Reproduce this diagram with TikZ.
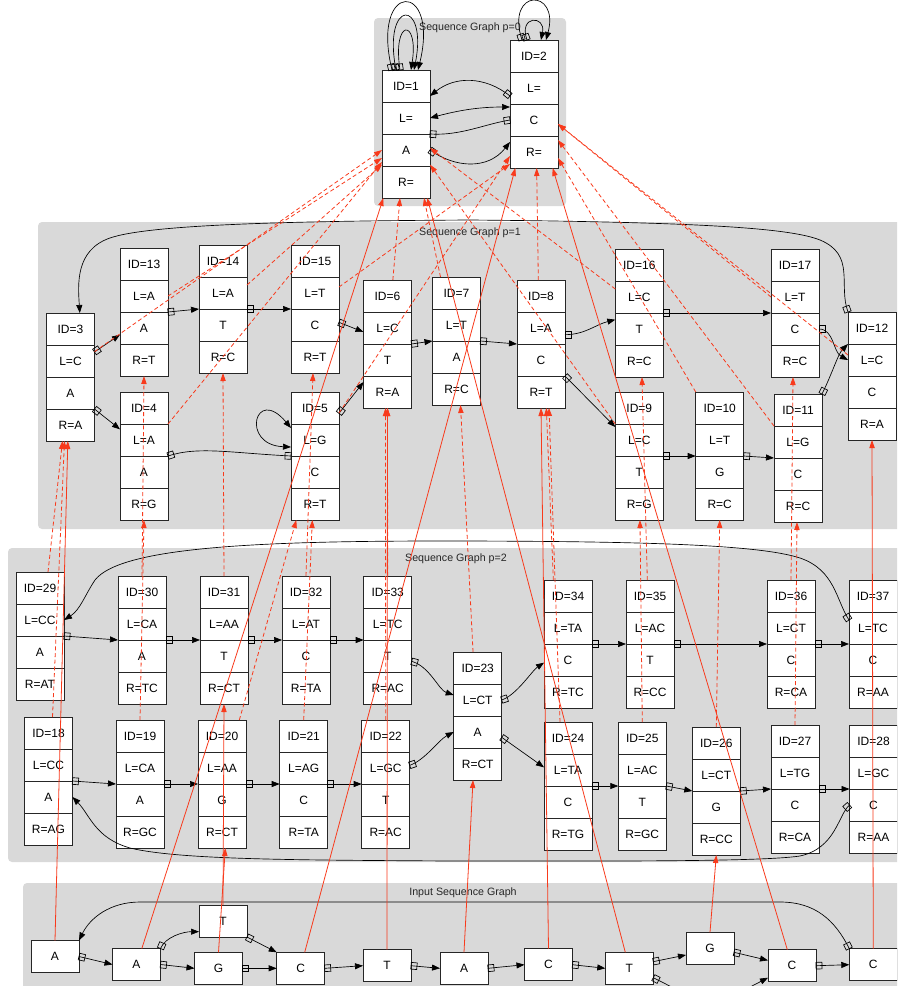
\documentclass[tikz,border=0pt]{standalone}
\usepackage{fontspec}
\setmainfont{Liberation Sans}
\usetikzlibrary{arrows.meta}
\definecolor{clgrey}{RGB}{217,217,217}
\definecolor{linkred}{RGB}{248,58,28}

\pgfdeclarearrow{
  name = obox,
  setup code = {
    \pgfarrowssettipend{0pt}
    \pgfarrowssetlineend{0pt}
    \pgfarrowssetvisualtipend{0pt}
    \pgfarrowssetbackend{-4.5pt}
    \pgfarrowssetvisualbackend{-4.5pt}
    \pgfarrowsupperhullpoint{0pt}{2.5pt}
    \pgfarrowsupperhullpoint{-4.5pt}{2.5pt}
  },
  drawing code = {
    \pgfsetdash{}{0pt}
    \pgfpathrectangle{\pgfpoint{-4.5pt}{-2.5pt}}{\pgfpoint{4.5pt}{5pt}}
    \pgfusepathqstroke
  }
}

\tikzset{
  cell/.style={draw=black!85, fill=white, line width=0.5pt, minimum width=36pt, minimum height=24pt,
    inner sep=0pt, outer sep=0pt, font=\fontsize{9}{11}\selectfont},
  cluster/.style={fill=clgrey, rounded corners=3pt},
  clusterlabel/.style={font=\fontsize{8}{10}\selectfont, text=black!85, inner sep=0pt},
  seqedge/.style={line width=0.5pt, {obox}-{Triangle[length=6pt,width=4.5pt]}},
  boxedge/.style={line width=0.5pt, {obox}-{obox}},
  dualedge/.style={line width=0.5pt, {Triangle[length=6pt,width=4.5pt]}-{Triangle[length=6pt,width=4.5pt]}},
  linkedge/.style={draw=linkred, line width=0.6pt, -{Triangle[length=6pt,width=4pt]}},
  parentedge/.style={linkedge, dash pattern=on 3pt off 2pt},
}

% record node: name, centre x, top y, id, left, centre, right
\newcommand{\recnode}[7]{%
  \node[cell] (#1i) at (#2,#3+16) {ID=#4};
  \node[cell] (#1l) at (#2,#3+48) {L=#5};
  \node[cell] (#1c) at (#2,#3+80) {#6};
  \node[cell] (#1r) at (#2,#3+112) {R=#7};
}

\begin{document}
\begin{tikzpicture}[x=0.75pt,y=-0.75pt]
\useasboundingbox (0,0) rectangle (897,986);
\clip (0,0) rectangle (897,986);

\fill[cluster] (374,18) rectangle (566,206);
\fill[cluster] (38,222) rectangle (910,529);
\fill[cluster] (8,548) rectangle (910,862);
\fill[cluster] (23,883) rectangle (910,1000);
\node[clusterlabel] (lab0) at (470,28) {Sequence Graph p=0};
\node[clusterlabel] (lab1) at (470,233) {Sequence Graph p=1};
\node[clusterlabel] (lab2) at (456,559) {Sequence Graph p=2};
\node[clusterlabel] (lab3) at (463,893) {Input Sequence Graph};

% p=0
\recnode{r1}{406}{70}{1}{}{A}{}
\recnode{r2}{534}{40}{2}{}{C}{}

% p=1
\recnode{r3}{70.5}{313}{3}{C}{A}{A}
\recnode{r13}{144}{248}{13}{A}{A}{T}
\recnode{r14}{223}{245}{14}{A}{T}{C}
\recnode{r15}{315}{245}{15}{T}{C}{T}
\recnode{r4}{144}{392}{4}{A}{A}{G}
\recnode{r5}{315}{392}{5}{G}{C}{T}
\recnode{r6}{387.5}{280}{6}{C}{T}{A}
\recnode{r7}{456.5}{277}{7}{T}{A}{C}
\recnode{r8}{541}{280}{8}{A}{C}{T}
\recnode{r16}{639.3}{249}{16}{C}{T}{C}
\recnode{r9}{639.3}{392}{9}{C}{T}{G}
\recnode{r10}{719.7}{392}{10}{T}{G}{C}
\recnode{r17}{795}{249}{17}{T}{C}{C}
\recnode{r11}{798}{394}{11}{G}{C}{C}
\recnode{r12}{872}{312}{12}{C}{C}{A}

% p=2
\recnode{r29}{40}{572}{29}{CC}{A}{AT}
\recnode{r30}{142}{576}{30}{CA}{A}{TC}
\recnode{r31}{224}{576}{31}{AA}{T}{CT}
\recnode{r32}{306}{576}{32}{AT}{C}{TA}
\recnode{r33}{387.7}{576}{33}{TC}{T}{AC}
\recnode{r18}{48.5}{717}{18}{CC}{A}{AG}
\recnode{r19}{140}{720}{19}{CA}{A}{GC}
\recnode{r20}{222}{720}{20}{AA}{G}{CT}
\recnode{r21}{303.7}{720}{21}{AG}{C}{TA}
\recnode{r22}{385.7}{720}{22}{GC}{T}{AC}
\recnode{r23}{477.7}{652}{23}{CT}{A}{CT}
\recnode{r34}{568}{580}{34}{TA}{C}{TC}
\recnode{r35}{650}{580}{35}{AC}{T}{CC}
\recnode{r36}{791}{580}{36}{CT}{C}{CA}
\recnode{r37}{873}{580}{37}{TC}{C}{AA}
\recnode{r24}{568}{722}{24}{TA}{C}{TG}
\recnode{r25}{642.3}{722}{25}{AC}{T}{GC}
\recnode{r26}{716.3}{727}{26}{CT}{G}{CC}
\recnode{r27}{795}{725}{27}{TG}{C}{CA}
\recnode{r28}{873.5}{725}{28}{GC}{C}{AA}

% input sequence graph
\node[cell] (in1) at (55,956.5) {A};
\node[cell] (in2) at (136.5,964.5) {A};
\node[cell] (in3) at (223,921) {T};
\node[cell] (in4) at (218.5,968.3) {G};
\node[cell] (in5) at (300.7,968.3) {C};
\node[cell] (in6) at (387,965.7) {T};
\node[cell] (in7) at (464,968.3) {A};
\node[cell] (in8) at (548.5,964.7) {C};
\node[cell] (in9) at (629.3,968.3) {T};
\node[cell] (in10) at (710,948.3) {G};
\node[cell] (in11) at (792,965.7) {C};
\node[cell] (in12) at (873.3,964.7) {C};
\coordinate (offa) at (705,1004);
\coordinate (offb) at (725,1000);

% edges p=0
\draw[seqedge] ([xshift=-10.5pt]r1i.north) .. controls +(-22,-90) and +(22,-90) .. ([xshift=9pt]r1i.north);
\draw[seqedge] ([xshift=-7.5pt]r1i.north) .. controls +(-14,-72) and +(14,-72) .. ([xshift=6pt]r1i.north);
\draw[seqedge] ([xshift=-4.5pt]r1i.north) .. controls +(-8,-52) and +(8,-52) .. ([xshift=3.75pt]r1i.north);
\draw[seqedge] ([xshift=-9pt]r2i.north) .. controls +(-17,-52) and +(14,-52) .. ([xshift=9pt]r2i.north);
\draw[seqedge] ([xshift=-5.25pt]r2i.north) .. controls +(-9,-25) and +(5,-25) .. ([xshift=5.25pt]r2i.north);
\draw[seqedge] ([yshift=6pt]r2l.south west) .. controls +(-25,-20) and +(25,-20) .. ([yshift=4.5pt]r1i.south east);
\draw[dualedge] (r1l.east) .. controls +(30,-8) and +(-30,0) .. ([yshift=-2.25pt]r2l.south west);
\draw[boxedge] (r1c.north east) .. controls +(30,2) and +(-25,4) .. (r2c.west);
\draw[seqedge] (r1c.east) .. controls +(25,18) and +(-22,28) .. ([yshift=7.5pt]r2r.west);

% edges p=1
\draw[seqedge] (r12i.north west) .. controls (838,285) and (856,255) .. (820,240) .. controls (790,228) and (700,222) .. (470,220) .. controls (300,221) and (150,224) .. (110,238) .. controls (75,250) and (78,285) .. ([xshift=7pt]r3i.north);
\draw[seqedge] ([yshift=6.75pt]r3l.east) -- ([yshift=-5pt]r13c.west);
\draw[seqedge] (r3c.south east) -- ([yshift=8pt]r4l.west);
\draw[seqedge] (r13c.north east) -- (r14c.north west);
\draw[seqedge] (r14c.north east) -- (r15c.north west);
\draw[seqedge] ([yshift=2pt]r15c.east) -- ([yshift=-3pt]r6l.west);
\draw[seqedge] ([yshift=-4pt]r5i.east) -- ([yshift=7.5pt]r6r.west);
\draw[boxedge] (r4c.north east) .. controls +(30,-10) and +(-60,-3) .. (r5c.north west);
\draw[dualedge] ([yshift=-5.25pt]r5l.west) .. controls (240,445) and (255,385) .. ([yshift=9pt]r5l.west);
\draw[seqedge] (r6c.north east) -- (r7c.north west);
\draw[seqedge] (r7c.north east) -- (r8c.north west);
\draw[seqedge] ([yshift=-5pt]r8l.east) .. controls +(20,0) and +(-20,5) .. ([yshift=7pt]r16c.west);
\draw[seqedge] (r8c.south east) -- ([yshift=9.75pt]r9l.west);
\draw[seqedge] (r16c.north east) -- (r17c.north west);
\draw[seqedge] (r9c.north east) -- (r10c.north west);
\draw[seqedge] (r10c.north east) -- (r11c.north west);
\draw[seqedge] (r17c.east) .. controls +(15,0) and +(-15,-8) .. (r12l.west);
\draw[seqedge] (r11i.north east) .. controls +(10,-20) and +(-10,10) .. (r12l.north west);

% edges p=2
\draw[seqedge] ([yshift=6pt]r37l.west) .. controls (836,600) and (835,570) .. (800,558) .. controls (760,545) and (650,541) .. (440,541) .. controls (250,541) and (120,548) .. (95,580) .. controls (85,595) and (80,610) .. (r29l.east);
\draw[seqedge] (r29c.north east) -- (r30c.north west);
\draw[seqedge] (r30c.north east) -- (r31c.north west);
\draw[seqedge] (r31c.north east) -- (r32c.north west);
\draw[seqedge] (r32c.north east) -- (r33c.north west);
\draw[seqedge] ([yshift=-4pt]r33c.east) .. controls +(18,5) and +(-15,-5) .. ([yshift=3.75pt]r23l.west);
\draw[seqedge] ([yshift=2pt]r22l.east) .. controls +(15,-5) and +(-15,8) .. (r23c.west);
\draw[seqedge] (r18c.north east) -- (r19c.north west);
\draw[seqedge] (r19c.north east) -- (r20c.north west);
\draw[seqedge] (r20c.north east) -- (r21c.north west);
\draw[seqedge] (r21c.north east) -- (r22c.north west);
\draw[seqedge] (r23l.east) .. controls +(15,-5) and +(-12,8) .. ([yshift=-2pt]r34c.west);
\draw[seqedge] ([yshift=-4pt]r23c.east) -- ([yshift=2pt]r24l.west);
\draw[seqedge] (r34c.north east) -- (r35c.north west);
\draw[seqedge] (r35c.north east) -- (r36c.north west);
\draw[seqedge] (r36c.north east) -- (r37c.north west);
\draw[seqedge] (r24c.north east) -- (r25c.north west);
\draw[seqedge] (r25c.north east) -- (r26c.north west);
\draw[seqedge] (r26c.north east) -- (r27c.north west);
\draw[seqedge] (r27c.north east) -- (r28c.north west);
\draw[seqedge] (r28c.west) .. controls (838,815) and (836,848) .. (800,856) .. controls (760,862) and (600,861) .. (450,861) .. controls (300,860) and (180,860) .. (130,848) .. controls (95,838) and (90,815) .. (r18c.east);

% edges input
\draw[seqedge] (in1.east) -- (in2.west);
\draw[seqedge] (in2.north east) .. controls +(5,-12) and +(-15,0) .. ([yshift=-8pt]in3.west);
\draw[seqedge] (in2.east) -- (in4.west);
\draw[seqedge] (in3.south east) -- (in5.north west);
\draw[seqedge] (in4.east) -- (in5.west);
\draw[seqedge] (in5.east) -- (in6.west);
\draw[seqedge] (in6.east) -- (in7.west);
\draw[seqedge] (in7.east) -- (in8.west);
\draw[seqedge] (in8.east) -- (in9.west);
\draw[seqedge] ([yshift=5pt]in9.east) -- ([yshift=-5pt]in10.west);
\draw[seqedge] ([yshift=-7pt]in9.east) -- (offa);
\draw[seqedge] (offb) -- ([yshift=-9pt]in11.west);
\draw[seqedge] ([yshift=-3pt]in10.east) -- ([yshift=4pt]in11.west);
\draw[seqedge] (in11.east) -- (in12.west);
\draw[seqedge] (in12.north west) .. controls (835,920) and (815,902) .. (780,902) -- (140,902) .. controls (110,902) and (90,918) .. (in1.north east);

% input to levels
\draw[linkedge] (in1.north) -- ([xshift=-2pt]r3r.south);
\draw[linkedge] ([xshift=4pt]in2.north) -- ([xshift=1pt]r1r.south west);
\draw[linkedge] (in4.north) -- ([xshift=2.5pt]r20r.south);
\draw[linkedge] (in3.north) -- (r31r.south);
\draw[linkedge] ([xshift=3pt]in5.north) -- ([xshift=4pt]r2r.south west);
\draw[linkedge] (in6.north) -- (r6r.south);
\draw[linkedge] (in7.north) -- ([xshift=-3.5pt]r23r.south);
\draw[linkedge] (in8.north) -- (r8r.south);
\draw[linkedge] ([xshift=-3pt]in9.north) -- ([xshift=-2pt]r1r.south east);
\draw[linkedge] (in10.north) -- (r26r.south);
\draw[linkedge] ([xshift=-3.5pt]in11.north) -- ([xshift=-4pt]r2r.south east);
\draw[linkedge] (in12.north) -- (r12r.south);

% p=1 to p=0
\draw[parentedge] ([yshift=7pt]r3l.east) -- (r1c.west);
\draw[parentedge] (r13l.east) -- ([yshift=-6pt]r1c.west);
\draw[parentedge] ([yshift=6pt]r14l.east) -- ([yshift=-11pt]r1c.west);
\draw[parentedge] (r4l.north east) -- ([yshift=-9pt]r1c.west);
\draw[parentedge] ([yshift=4.5pt]r15l.east) -- ([yshift=3pt]r2r.south west);
\draw[parentedge] ([yshift=-3.75pt]r5i.east) -- ([yshift=-3pt]r2r.west);
\draw[parentedge] ([xshift=4pt]r6i.north) -- ([xshift=-4.5pt]r1r.south);
\draw[parentedge] ([xshift=-12pt]r7i.north) -- ([xshift=-4.5pt]r1r.south east);
\draw[parentedge] ([xshift=-2pt]r8i.north) -- ([xshift=2pt]r2r.south);
\draw[parentedge] ([yshift=6pt]r16l.west) -- ([yshift=1.5pt]r1c.east);
\draw[parentedge] (r9i.south west) -- ([yshift=-11pt]r1c.east);
\draw[parentedge] (r10i.north west) -- ([yshift=-4.5pt]r2r.east);
\draw[parentedge] (r11l.north west) -- ([yshift=-3pt]r2r.north east);
\draw[parentedge] ([yshift=3.75pt]r12l.west) -- ([yshift=-3pt]r2c.east);
\draw[parentedge] (r17l.west) -- ([yshift=-3pt]r2c.east);

% p=2 to p=1
\draw[parentedge] ([xshift=6pt]r29i.north) -- ([xshift=-6pt]r3r.south);
\draw[parentedge] ([xshift=3pt]r18i.north) -- ([xshift=-4.5pt]r3r.south);
\draw[parentedge] (r30i.north) -- (r13r.south);
\draw[parentedge] (r19i.north) -- (r4r.south);
\draw[parentedge] (r31i.north) -- (r14r.south);
\draw[parentedge] ([xshift=13pt]r20i.north) -- ([xshift=-14pt]r5r.south);
\draw[parentedge] (r32i.north) -- ([xshift=-1.5pt]r15r.south);
\draw[parentedge] (r21i.north) -- ([xshift=-2pt]r5r.south);
\draw[parentedge] (r33i.north) -- (r6r.south);
\draw[parentedge] (r22i.north) -- ([xshift=-1.5pt]r6r.south);
\draw[parentedge] ([xshift=-3.5pt]r23i.north) -- ([xshift=3pt]r7r.south);
\draw[parentedge] ([xshift=-11pt]r34i.north) -- ([xshift=4pt]r8r.south);
\draw[parentedge] ([xshift=-6pt]r24i.north) -- ([xshift=6pt]r8r.south);
\draw[parentedge] ([xshift=-2pt]r35i.north) -- ([xshift=2pt]r16r.south);
\draw[parentedge] (r25i.north) -- ([xshift=0.5pt]r9r.south);
\draw[parentedge] (r26i.north) -- (r10r.south);
\draw[parentedge] (r36i.north) -- ([xshift=-1.5pt]r17r.south);
\draw[parentedge] (r27i.north) -- ([xshift=-0.75pt]r11r.south);
\end{tikzpicture}
\end{document}
